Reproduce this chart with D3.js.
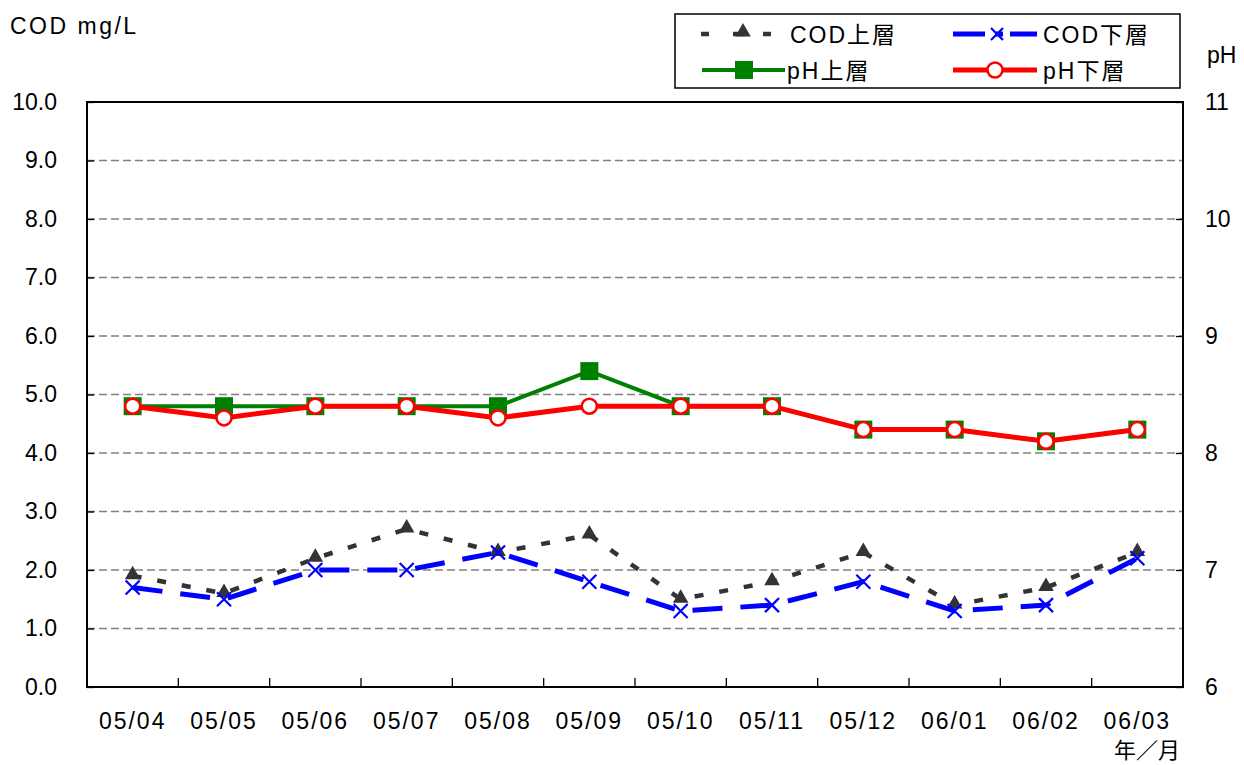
<!DOCTYPE html>
<html>
<head>
<meta charset="utf-8">
<script src="https://cdn.jsdelivr.net/npm/d3@7/dist/d3.min.js"></script>
<style>
  html, body { margin: 0; padding: 0; background: #fff; }
  svg text { font-family: "Liberation Sans", Arial, "Noto Sans CJK JP", sans-serif; fill: #000; }
</style>
</head>
<body>
<svg id="chart" width="1244" height="765"></svg>
<script>
// Monthly water quality: COD (left axis) and pH (right axis), upper and lower layers
const months = ["05/04","05/05","05/06","05/07","05/08","05/09","05/10","05/11","05/12","06/01","06/02","06/03"];
const codUpper = [1.9, 1.6, 2.2, 2.7, 2.3, 2.6, 1.5, 1.8, 2.3, 1.4, 1.7, 2.3];
const codLower = [1.7, 1.5, 2.0, 2.0, 2.3, 1.8, 1.3, 1.4, 1.8, 1.3, 1.4, 2.2];
const phUpper  = [8.4, 8.4, 8.4, 8.4, 8.4, 8.7, 8.4, 8.4, 8.2, 8.2, 8.1, 8.2];
const phLower  = [8.4, 8.3, 8.4, 8.4, 8.3, 8.4, 8.4, 8.4, 8.2, 8.2, 8.1, 8.2];
const codTicks = [0,1,2,3,4,5,6,7,8,9,10];
const phTicks  = [6,7,8,9,10,11];

const svg = d3.select("#chart");
const pLeft = 87, pRight = 1183, pTop = 102, pBottom = 687;
const fs = 23;

const x = d3.scaleBand().domain(months).range([pLeft, pRight]).paddingInner(0).paddingOuter(0);
const yCod = d3.scaleLinear().domain([0, 10]).range([pBottom, pTop]);
const yPh  = d3.scaleLinear().domain([6, 11]).range([pBottom, pTop]);
const cx = m => x(m) + x.bandwidth() / 2;

// horizontal dashed gridlines
svg.append("g").selectAll("line").data(codTicks.filter(t => t > 0 && t < 10)).join("line")
  .attr("x1", pLeft).attr("x2", pRight)
  .attr("y1", d => yCod(d)).attr("y2", d => yCod(d))
  .attr("stroke", "#808080").attr("stroke-width", 1.4).attr("stroke-dasharray", "8,4");

// left axis (ticks point into the plot)
const gl = svg.append("g").attr("transform", `translate(${pLeft},0)`)
  .call(d3.axisLeft(yCod).tickValues(codTicks).tickFormat(d3.format(".1f")).tickSize(-7).tickPadding(30));
gl.select(".domain").remove();
gl.selectAll(".tick line").attr("stroke", "#000").attr("stroke-width", 1.3);
gl.selectAll("text").attr("font-size", fs).attr("fill", "#000");

// right axis
const gr = svg.append("g").attr("transform", `translate(${pRight},0)`)
  .call(d3.axisRight(yPh).tickValues(phTicks).tickFormat(d3.format("d")).tickSize(-7).tickPadding(22));
gr.select(".domain").remove();
gr.selectAll(".tick line").attr("stroke", "#000").attr("stroke-width", 1.3);
gr.selectAll("text").attr("font-size", fs).attr("fill", "#000");

// bottom axis: category labels, ticks drawn upward between categories
const gb = svg.append("g").attr("transform", `translate(0,${pBottom})`)
  .call(d3.axisBottom(x).tickSize(0).tickPadding(26));
gb.select(".domain").remove();
gb.selectAll("text").attr("font-size", fs).attr("fill", "#000").attr("letter-spacing", 2);
svg.append("g").selectAll("line").data(months.slice(1)).join("line")
  .attr("x1", d => x(d)).attr("x2", d => x(d))
  .attr("y1", pBottom).attr("y2", pBottom - 9)
  .attr("stroke", "#000").attr("stroke-width", 1.3);

// plot frame
svg.append("rect").attr("x", pLeft).attr("y", pTop).attr("width", pRight - pLeft).attr("height", pBottom - pTop)
  .attr("fill", "none").attr("stroke", "#000").attr("stroke-width", 2);

// axis titles
svg.append("text").attr("x", 10).attr("y", 34).attr("font-size", fs).attr("letter-spacing", 2.5).text("COD mg/L");
svg.append("text").attr("x", 1207).attr("y", 63).attr("font-size", fs).text("pH");
svg.append("text").attr("x", 1147).attr("y", 758).attr("font-size", 22).attr("text-anchor", "middle").text("年／月");

const lineCod = d3.line().x((d, i) => cx(months[i])).y(d => yCod(d));
const linePh  = d3.line().x((d, i) => cx(months[i])).y(d => yPh(d));

// COD upper: dark grey short dashes with triangles
svg.append("path").datum(codUpper).attr("d", lineCod)
  .attr("fill", "none").attr("stroke", "#333").attr("stroke-width", 4.5).attr("stroke-dasharray", "9,16");
svg.append("g").selectAll("path").data(codUpper).join("path")
  .attr("d", d3.symbol(d3.symbolTriangle, 105))
  .attr("transform", (d, i) => `translate(${cx(months[i])},${yCod(d) - 1})`)
  .attr("fill", "#333");

// COD lower: blue long dashes with crosses
svg.append("path").datum(codLower).attr("d", lineCod)
  .attr("fill", "none").attr("stroke", "#0000ff").attr("stroke-width", 5).attr("stroke-dasharray", "30,18");
const xMark = "M-7,-7L7,7M-7,7L7,-7";
svg.append("g").selectAll("path").data(codLower).join("path")
  .attr("d", xMark)
  .attr("transform", (d, i) => `translate(${cx(months[i])},${yCod(d)})`)
  .attr("fill", "none").attr("stroke", "#0000ff").attr("stroke-width", 2.2);

// pH upper: green line with squares
svg.append("path").datum(phUpper).attr("d", linePh)
  .attr("fill", "none").attr("stroke", "#008000").attr("stroke-width", 4);
svg.append("g").selectAll("rect").data(phUpper).join("rect")
  .attr("x", (d, i) => cx(months[i]) - 9).attr("y", d => yPh(d) - 9)
  .attr("width", 18).attr("height", 18).attr("fill", "#008000");

// pH lower: red line with open circles
svg.append("path").datum(phLower).attr("d", linePh)
  .attr("fill", "none").attr("stroke", "#ff0000").attr("stroke-width", 5);
svg.append("g").selectAll("circle").data(phLower).join("circle")
  .attr("cx", (d, i) => cx(months[i])).attr("cy", d => yPh(d)).attr("r", 7.5)
  .attr("fill", "#fff").attr("stroke", "#ff0000").attr("stroke-width", 2.5);

// legend
const lg = svg.append("g");
lg.append("rect").attr("x", 675).attr("y", 14).attr("width", 505).attr("height", 74)
  .attr("fill", "#fff").attr("stroke", "#000").attr("stroke-width", 1.5);
// COD upper entry
lg.append("line").attr("x1", 701).attr("x2", 709).attr("y1", 34).attr("y2", 34)
  .attr("stroke", "#333").attr("stroke-width", 4.5);
lg.append("line").attr("x1", 733).attr("x2", 745).attr("y1", 34).attr("y2", 34)
  .attr("stroke", "#333").attr("stroke-width", 4.5);
lg.append("line").attr("x1", 763).attr("x2", 771).attr("y1", 34).attr("y2", 34)
  .attr("stroke", "#333").attr("stroke-width", 4.5);
lg.append("path").attr("d", d3.symbol(d3.symbolTriangle, 105)).attr("transform", "translate(743,32)").attr("fill", "#333");
lg.append("text").attr("x", 790).attr("y", 43).attr("font-size", fs).attr("letter-spacing", 2).text("COD上層");
// COD lower entry
lg.append("line").attr("x1", 953).attr("x2", 1037).attr("y1", 34).attr("y2", 34)
  .attr("stroke", "#0000ff").attr("stroke-width", 5);
lg.append("rect").attr("x", 985).attr("y", 26).attr("width", 10).attr("height", 16).attr("fill", "#fff");
lg.append("rect").attr("x", 1003).attr("y", 26).attr("width", 7).attr("height", 16).attr("fill", "#fff");
lg.append("path").attr("d", "M-6,-6L6,6M-6,6L6,-6").attr("transform", "translate(997,34)")
  .attr("fill", "none").attr("stroke", "#0000ff").attr("stroke-width", 2.2);
lg.append("text").attr("x", 1043).attr("y", 43).attr("font-size", fs).attr("letter-spacing", 2).text("COD下層");
// pH upper entry
lg.append("line").attr("x1", 702).attr("x2", 785).attr("y1", 70).attr("y2", 70)
  .attr("stroke", "#008000").attr("stroke-width", 4);
lg.append("rect").attr("x", 735).attr("y", 61).attr("width", 18).attr("height", 18).attr("fill", "#008000");
lg.append("text").attr("x", 787).attr("y", 79).attr("font-size", fs).attr("letter-spacing", 2).text("pH上層");
// pH lower entry
lg.append("line").attr("x1", 953).attr("x2", 1037).attr("y1", 70).attr("y2", 70)
  .attr("stroke", "#ff0000").attr("stroke-width", 5);
lg.append("circle").attr("cx", 995).attr("cy", 70).attr("r", 7.5)
  .attr("fill", "#fff").attr("stroke", "#ff0000").attr("stroke-width", 2.5);
lg.append("text").attr("x", 1043).attr("y", 79).attr("font-size", fs).attr("letter-spacing", 2).text("pH下層");
</script>
</body>
</html>
